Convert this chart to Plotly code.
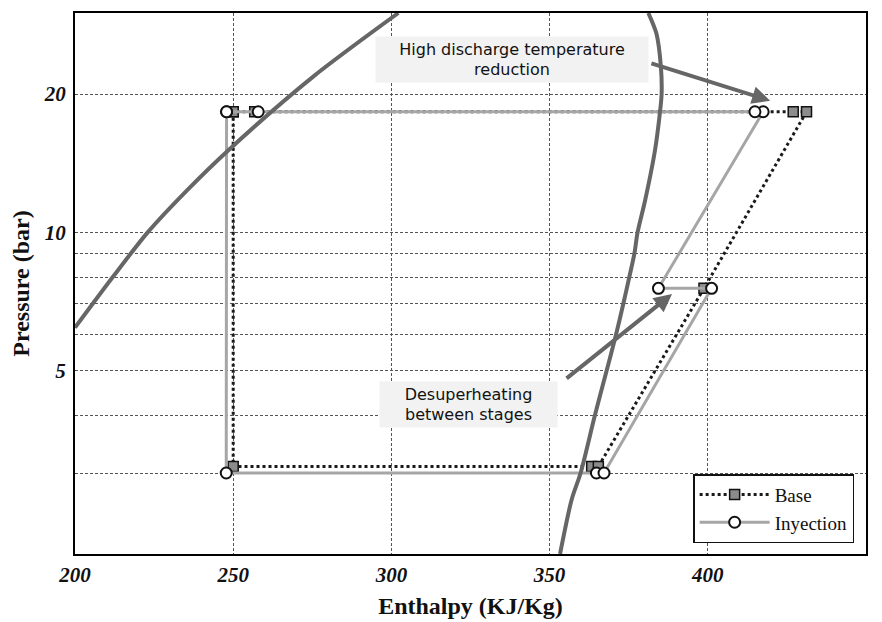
import math
import plotly.graph_objects as go

# ---- data ----
base_h = [250.0, 250.0, 363.3, 365.4, 398.8, 431.2, 427.0, 256.8, 250.0]
base_p = [18.3, 3.1, 3.1, 3.1, 7.56, 18.3, 18.3, 18.3, 18.3]

inj_h = [247.9, 247.8, 364.8, 367.2, 401.2, 384.4, 417.5, 414.9, 257.9, 247.9]
inj_p = [18.3, 3.0, 3.0, 3.0, 7.56, 7.56, 18.3, 18.3, 18.3, 18.3]

liq_h = [200.0, 212.0, 223.1, 235.4, 248.4, 275.0, 302.2]
liq_p = [6.21, 8.01, 10.03, 12.35, 15.08, 21.74, 30.0]

vap_h = [353.3, 357.0, 359.8, 364.3, 368.0, 371.0, 373.3, 375.2, 376.8, 377.8,
         380.2, 383.3, 384.9, 385.4, 385.2, 383.8, 381.2]
vap_p = [2.0, 2.63, 3.0, 4.0, 5.0, 6.0, 7.0, 8.0, 9.0, 10.0,
         11.75, 15.07, 18.3, 20.0, 22.8, 27.0, 30.0]

x_ticks = [200, 250, 300, 350, 400, 450]
y_grid = [3, 4, 5, 6, 7, 8, 9, 10, 20]
y_labels = ["", "", "5", "", "", "", "", "10", "20"]

serif = "Liberation Serif, Times New Roman, serif"
sans = "DejaVu Sans, Verdana, sans-serif"

fig = go.Figure()

fig.add_trace(go.Scatter(
    x=base_h, y=base_p, mode="lines+markers", name="Base",
    line=dict(color="#1a1a1a", width=3, dash="dot"),
    marker=dict(symbol="square", size=10, color="#8c8c8c",
                line=dict(color="#111111", width=1.5)),
))
fig.add_trace(go.Scatter(
    x=inj_h, y=inj_p, mode="lines+markers", name="Inyection",
    line=dict(color="#a6a6a6", width=3),
    marker=dict(symbol="circle", size=11, color="white",
                line=dict(color="#111111", width=2)),
))
fig.add_trace(go.Scatter(
    x=liq_h, y=liq_p, mode="lines", showlegend=False,
    line=dict(color="#666666", width=4, shape="spline", smoothing=0.8),
))
fig.add_trace(go.Scatter(
    x=vap_h, y=vap_p, mode="lines", showlegend=False,
    line=dict(color="#666666", width=4, shape="spline", smoothing=0.8),
))

# text boxes
fig.add_annotation(x=338.1, y=1.3764, xref="x", yref="y",
                   text="High discharge temperature<br>reduction",
                   showarrow=False, bgcolor="#f2f2f2", width=268, height=41,
                   borderpad=2, font=dict(family=sans, size=16, color="#111"))
fig.add_annotation(x=324.4, y=0.6271, xref="x", yref="y",
                   text="Desuperheating<br>between stages",
                   showarrow=False, bgcolor="#f2f2f2", width=173, height=41,
                   borderpad=2, font=dict(family=sans, size=16, color="#111"))
# arrows
fig.add_annotation(x=419.7, y=1.2865, ax=381.7, ay=1.3688,
                   xref="x", yref="y", axref="x", ayref="y", text="",
                   showarrow=True, arrowhead=2, arrowsize=0.9, arrowwidth=4,
                   arrowcolor="#666666", standoff=0)
fig.add_annotation(x=388.7, y=0.8663, ax=354.9, ay=0.6801,
                   xref="x", yref="y", axref="x", ayref="y", text="",
                   showarrow=True, arrowhead=2, arrowsize=0.9, arrowwidth=4,
                   arrowcolor="#666666", standoff=0)

fig.update_xaxes(
    range=[200, 450], tickvals=x_ticks,
    tickfont=dict(family=serif, size=21, color="#111", style="italic", weight="bold"),
    showgrid=True, gridcolor="#555555", gridwidth=1, griddash="3px,2px",
    showline=True, linecolor="black", linewidth=2, mirror=True,
    ticks="outside", ticklen=1, tickcolor="rgba(0,0,0,0)",
    zeroline=False,
    title=dict(text="Enthalpy (KJ/Kg)", standoff=11,
               font=dict(family=serif, size=24, color="#111", weight="bold")),
)
fig.update_yaxes(
    type="log", range=[math.log10(2), math.log10(30)],
    tickvals=y_grid, ticktext=y_labels,
    tickfont=dict(family=serif, size=21, color="#111", style="italic", weight="bold"),
    showgrid=True, gridcolor="#555555", gridwidth=1, griddash="3px,2px",
    showline=True, linecolor="black", linewidth=2, mirror=True,
    ticks="outside", ticklen=3, tickcolor="rgba(0,0,0,0)",
    zeroline=False,
    title=dict(text="Pressure (bar)", standoff=7,
               font=dict(family=serif, size=24, color="#111", weight="bold")),
)

fig.update_layout(
    width=882, height=622,
    margin=dict(l=75, r=16, t=13, b=68, autoexpand=False),
    plot_bgcolor="white", paper_bgcolor="white",
    legend=dict(x=0.985, y=0.02, xanchor="right", yanchor="bottom",
                bgcolor="white", bordercolor="#111", borderwidth=1.5,
                itemwidth=70,
                font=dict(family=serif, size=19, color="#111"),
                traceorder="normal"),
)

fig.write_html("out.html",
               config={"displayModeBar": False},
               post_script="document.body.style.margin='0';"
                           "document.body.style.overflow='hidden';")
